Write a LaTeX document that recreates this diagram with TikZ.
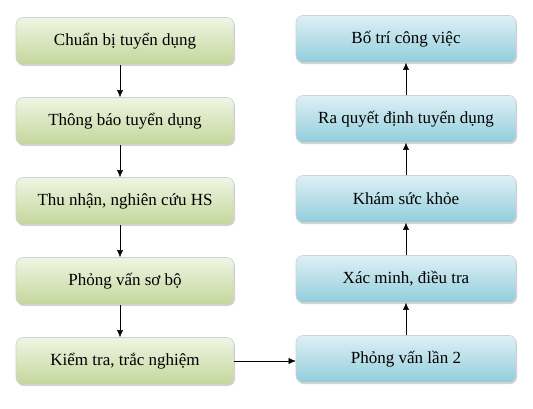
\documentclass[tikz,border=0pt]{standalone}
\usepackage{fontspec}
\setmainfont{Liberation Serif}
\usepackage{tikz}
\usetikzlibrary{arrows.meta,shadows,positioning}
\definecolor{laNhat}{RGB}{240,245,228}
\definecolor{laDam}{RGB}{195,214,155}
\definecolor{duongNhat}{RGB}{222,240,245}
\definecolor{duongDam}{RGB}{146,205,220}

\begin{document}
\begin{tikzpicture}[x=1pt,y=1pt,>={Latex[length=7pt,width=6pt]},node distance=0pt]
\tikzstyle{buoc}=[rectangle,rounded corners=7pt,minimum width=218pt,
minimum height=47pt,draw=black!18,line width=0.6pt,
drop shadow={opacity=0.35,shadow xshift=1pt,shadow yshift=-1.5pt},
font=\fontsize{17}{20}\selectfont]
\tikzstyle{buocLa}=[buoc,top color=laNhat,bottom color=laDam]
\tikzstyle{buocDuong}=[buoc,top color=duongNhat,bottom color=duongDam,
minimum width=220pt]
\useasboundingbox (0,0) rectangle (533,-408);

% cot trai
\node (Chuanbi) [buocLa] at (125,-41) {Chuẩn bị tuyển dụng};
\node (Thongbao) [buocLa] at (125,-121) {Thông báo tuyển dụng};
\node (Thunhan) [buocLa] at (125,-201) {Thu nhận, nghiên cứu HS};
\node (Sobo) [buocLa] at (125,-281) {Phỏng vấn sơ bộ};
\node (Kiemtra) [buocLa] at (125,-361) {Kiểm tra, trắc nghiệm};

% cot phai
\node (Lan2) [buocDuong] at (406,-359) {Phỏng vấn lần 2};
\node (Xacminh) [buocDuong] at (406,-279) {Xác minh, điều tra};
\node (Kham) [buocDuong] at (406,-199) {Khám sức khỏe};
\node (Quyetdinh) [buocDuong] at (406,-119) {Ra quyết định tuyển dụng};
\node (Botri) [buocDuong] at (406,-39) {Bố trí công việc};

\draw[->] ([xshift=-5pt]Chuanbi.south) -- ([xshift=-5pt]Thongbao.north);
\draw[->] ([xshift=-5pt]Thongbao.south) -- ([xshift=-5pt]Thunhan.north);
\draw[->] ([xshift=-5pt]Thunhan.south) -- ([xshift=-5pt]Sobo.north);
\draw[->] ([xshift=-5pt]Sobo.south) -- ([xshift=-5pt]Kiemtra.north);
\draw[->] (Kiemtra.east) -- (Kiemtra.east -| Lan2.west);
\draw[->] (Lan2) -- (Xacminh);
\draw[->] (Xacminh) -- (Kham);
\draw[->] (Kham) -- (Quyetdinh);
\draw[->] (Quyetdinh) -- (Botri);
\end{tikzpicture}
\end{document}
